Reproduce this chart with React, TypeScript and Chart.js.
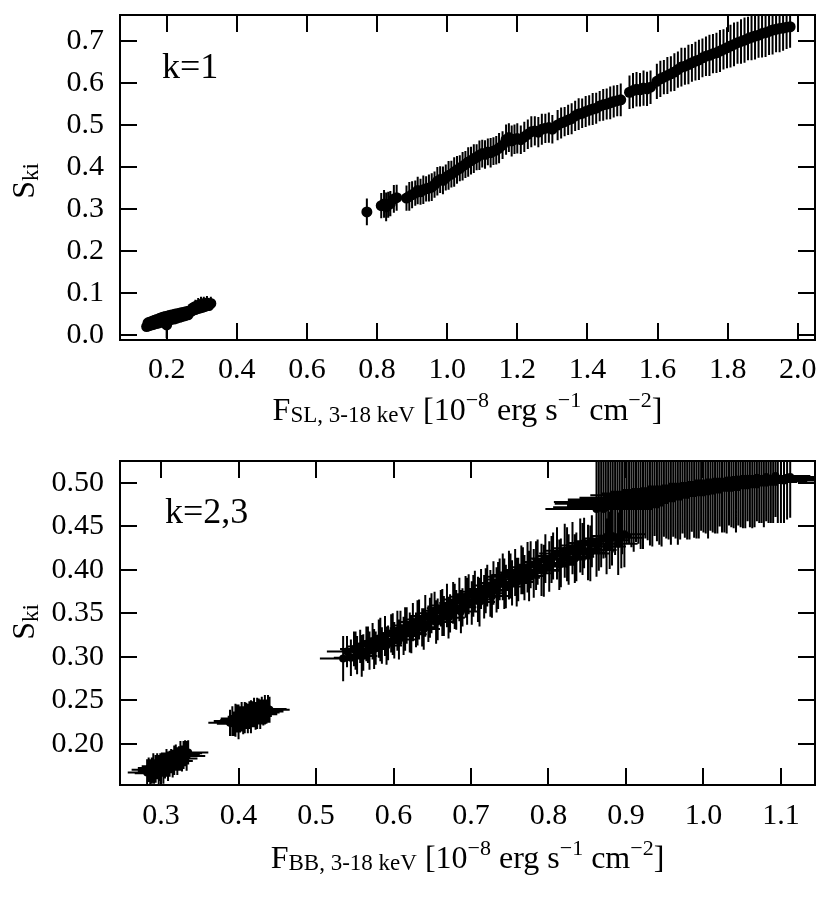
import React, { useEffect, useRef } from "react";
import Chart from "chart.js/auto";

const SERIF = "'Liberation Serif', 'Times New Roman', serif";

// ---- top panel (k=1): soft-lag flux vs S_ki ----
const slLowX = [0.143, 0.147, 0.150, 0.153, 0.157, 0.160, 0.163, 0.166, 0.169, 0.172, 0.176, 0.179, 0.182, 0.185, 0.188, 0.191, 0.194, 0.197, 0.200, 0.203, 0.206, 0.210, 0.213, 0.217, 0.221, 0.225, 0.229, 0.233, 0.237, 0.241, 0.245, 0.249, 0.253, 0.257, 0.261, 0.265, 0.270, 0.274, 0.278, 0.282, 0.286, 0.290, 0.294, 0.298, 0.302, 0.306, 0.310, 0.315, 0.320, 0.326];
const slLowY = [0.020, 0.029, 0.022, 0.031, 0.024, 0.033, 0.025, 0.035, 0.027, 0.037, 0.028, 0.039, 0.030, 0.041, 0.031, 0.043, 0.033, 0.044, 0.024, 0.045, 0.035, 0.047, 0.037, 0.048, 0.038, 0.050, 0.040, 0.051, 0.042, 0.053, 0.044, 0.054, 0.046, 0.056, 0.048, 0.057, 0.056, 0.064, 0.060, 0.068, 0.062, 0.071, 0.064, 0.073, 0.066, 0.075, 0.068, 0.076, 0.070, 0.075];
const slLowErr = [0.006, 0.006, 0.006, 0.006, 0.006, 0.007, 0.006, 0.007, 0.006, 0.007, 0.007, 0.007, 0.007, 0.007, 0.007, 0.008, 0.007, 0.008, 0.032, 0.008, 0.008, 0.008, 0.008, 0.008, 0.008, 0.009, 0.008, 0.009, 0.009, 0.009, 0.009, 0.009, 0.009, 0.010, 0.010, 0.010, 0.010, 0.010, 0.012, 0.016, 0.013, 0.017, 0.013, 0.018, 0.013, 0.016, 0.013, 0.017, 0.013, 0.016];

const slHighX = [
  0.771, 0.812, 0.820, 0.826, 0.832, 0.838, 0.848, 0.856, 0.884, 0.892,
  0.900, 0.909, 0.916, 0.924, 0.932, 0.940, 0.948, 0.956, 0.964, 0.972,
  0.980, 0.988, 0.996, 1.004, 1.012, 1.020, 1.028, 1.036, 1.044, 1.052,
  1.060, 1.068, 1.076, 1.084, 1.092, 1.100, 1.108, 1.116, 1.124, 1.132,
  1.140, 1.148, 1.158, 1.168, 1.176, 1.184, 1.192, 1.200, 1.210, 1.220,
  1.230, 1.240, 1.250, 1.260, 1.270, 1.280, 1.290, 1.300, 1.315, 1.325,
  1.335, 1.345, 1.355, 1.365, 1.375, 1.385, 1.395, 1.405, 1.415, 1.425,
  1.435, 1.445, 1.455, 1.465, 1.475, 1.485, 1.495, 1.520, 1.530, 1.540,
  1.550, 1.560, 1.570, 1.580, 1.598, 1.608, 1.618, 1.628, 1.638, 1.648,
  1.658, 1.668, 1.678, 1.688, 1.698, 1.708, 1.718, 1.728, 1.738, 1.748,
  1.758, 1.768, 1.778, 1.788, 1.798, 1.808, 1.818, 1.828, 1.838, 1.848,
  1.858, 1.868, 1.878, 1.888, 1.898, 1.908, 1.918, 1.928, 1.938, 1.948,
  1.958, 1.968, 1.978,
];
const slHighY = [
  0.293, 0.308, 0.312, 0.305, 0.310, 0.313, 0.324, 0.327, 0.326, 0.330,
  0.334, 0.338, 0.344, 0.341, 0.346, 0.348, 0.350, 0.352, 0.358, 0.366,
  0.370, 0.368, 0.375, 0.380, 0.383, 0.388, 0.393, 0.397, 0.402, 0.406,
  0.412, 0.415, 0.420, 0.423, 0.428, 0.432, 0.430, 0.436, 0.434, 0.438,
  0.440, 0.445, 0.452, 0.465, 0.470, 0.462, 0.466, 0.468, 0.465, 0.472,
  0.478, 0.484, 0.486, 0.483, 0.490, 0.492, 0.494, 0.490, 0.500, 0.505,
  0.508, 0.512, 0.515, 0.522, 0.526, 0.528, 0.532, 0.535, 0.538, 0.540,
  0.545, 0.548, 0.550, 0.553, 0.556, 0.558, 0.560, 0.578, 0.582, 0.585,
  0.584, 0.588, 0.586, 0.590, 0.604, 0.610, 0.614, 0.618, 0.622, 0.626,
  0.632, 0.638, 0.640, 0.644, 0.648, 0.652, 0.655, 0.660, 0.664, 0.666,
  0.670, 0.672, 0.676, 0.680, 0.684, 0.688, 0.692, 0.696, 0.699, 0.702,
  0.706, 0.709, 0.712, 0.714, 0.718, 0.720, 0.723, 0.726, 0.728, 0.730,
  0.731, 0.733, 0.734,
];
const slHighErr = [
  0.032, 0.030, 0.033, 0.034, 0.031, 0.030, 0.033, 0.031, 0.030, 0.034,
  0.032, 0.030, 0.033, 0.031, 0.034, 0.030, 0.032, 0.033, 0.031, 0.034,
  0.032, 0.033, 0.031, 0.034, 0.032, 0.035, 0.033, 0.031, 0.034, 0.032,
  0.035, 0.033, 0.034, 0.031, 0.035, 0.033, 0.034, 0.032, 0.035, 0.033,
  0.034, 0.036, 0.033, 0.036, 0.034, 0.037, 0.035, 0.036, 0.034, 0.036,
  0.035, 0.037, 0.035, 0.036, 0.037, 0.035, 0.036, 0.034, 0.036, 0.037,
  0.035, 0.036, 0.037, 0.036, 0.038, 0.035, 0.037, 0.036, 0.038, 0.037,
  0.036, 0.038, 0.037, 0.039, 0.038, 0.037, 0.039, 0.040, 0.042, 0.041,
  0.040, 0.042, 0.041, 0.040, 0.042, 0.043, 0.041, 0.044, 0.042, 0.045,
  0.043, 0.046, 0.044, 0.047, 0.045, 0.046, 0.048, 0.046, 0.047, 0.049,
  0.047, 0.048, 0.050, 0.048, 0.049, 0.051, 0.052, 0.050, 0.053, 0.054,
  0.052, 0.055, 0.056, 0.054, 0.057, 0.058, 0.056, 0.058, 0.055, 0.057,
  0.054, 0.052, 0.050,
];

// ---- bottom panel (k=2,3): blackbody flux vs S_ki ----
const bbAX = [0.282, 0.284, 0.286, 0.288, 0.290, 0.291, 0.293, 0.295, 0.297, 0.299, 0.301, 0.303, 0.305, 0.307, 0.309, 0.311, 0.313, 0.315, 0.317, 0.319, 0.321, 0.323, 0.325, 0.327, 0.329, 0.331, 0.333, 0.335];
const bbAY = [0.167, 0.170, 0.166, 0.169, 0.172, 0.168, 0.171, 0.174, 0.170, 0.173, 0.176, 0.172, 0.175, 0.178, 0.174, 0.177, 0.180, 0.177, 0.181, 0.184, 0.180, 0.183, 0.186, 0.183, 0.187, 0.189, 0.186, 0.190];
const bbAXErr = [0.025, 0.022, 0.020, 0.018, 0.020, 0.019, 0.018, 0.020, 0.017, 0.019, 0.018, 0.020, 0.018, 0.017, 0.019, 0.018, 0.020, 0.018, 0.019, 0.017, 0.020, 0.018, 0.019, 0.020, 0.021, 0.022, 0.024, 0.026];
const bbAYErr = [0.015, 0.014, 0.016, 0.015, 0.017, 0.014, 0.016, 0.015, 0.017, 0.016, 0.014, 0.018, 0.015, 0.016, 0.017, 0.015, 0.014, 0.016, 0.017, 0.015, 0.016, 0.014, 0.017, 0.015, 0.016, 0.015, 0.017, 0.014];

const bbBX = [0.389, 0.392, 0.394, 0.396, 0.398, 0.400, 0.402, 0.404, 0.406, 0.408, 0.410, 0.412, 0.414, 0.416, 0.418, 0.420, 0.422, 0.424, 0.426, 0.428, 0.430, 0.432, 0.434, 0.436, 0.438, 0.440];
const bbBY = [0.224, 0.226, 0.223, 0.227, 0.229, 0.225, 0.228, 0.231, 0.227, 0.230, 0.232, 0.229, 0.233, 0.231, 0.234, 0.236, 0.232, 0.235, 0.237, 0.234, 0.238, 0.236, 0.239, 0.237, 0.240, 0.239];
const bbBXErr = [0.028, 0.024, 0.022, 0.020, 0.021, 0.019, 0.020, 0.018, 0.021, 0.019, 0.020, 0.018, 0.021, 0.019, 0.020, 0.018, 0.021, 0.019, 0.020, 0.022, 0.019, 0.021, 0.020, 0.022, 0.024, 0.026];
const bbBYErr = [0.015, 0.017, 0.014, 0.019, 0.016, 0.020, 0.015, 0.017, 0.016, 0.018, 0.015, 0.017, 0.016, 0.019, 0.015, 0.017, 0.016, 0.018, 0.015, 0.017, 0.016, 0.015, 0.017, 0.014, 0.016, 0.015];

const bbCX = [
  0.535, 0.540, 0.545, 0.549, 0.553, 0.557, 0.561, 0.565, 0.569, 0.573,
  0.577, 0.581, 0.585, 0.589, 0.593, 0.597, 0.601, 0.605, 0.609, 0.613,
  0.617, 0.621, 0.625, 0.629, 0.633, 0.637, 0.641, 0.645, 0.649, 0.653,
  0.657, 0.661, 0.665, 0.669, 0.673, 0.677, 0.681, 0.685, 0.689, 0.693,
  0.697, 0.701, 0.705, 0.709, 0.713, 0.717, 0.721, 0.725, 0.729, 0.733,
  0.737, 0.741, 0.745, 0.749, 0.753, 0.757, 0.761, 0.765, 0.769, 0.773,
  0.777, 0.781, 0.786, 0.791, 0.796, 0.801, 0.806, 0.811, 0.816, 0.821,
  0.826, 0.831, 0.836, 0.841, 0.846, 0.851, 0.856, 0.862, 0.868, 0.875,
  0.882, 0.890, 0.898,
];
const bbCY = [
  0.298, 0.306, 0.299, 0.309, 0.302, 0.312, 0.305, 0.315, 0.307, 0.318,
  0.310, 0.321, 0.313, 0.324, 0.316, 0.327, 0.319, 0.330, 0.333, 0.324,
  0.336, 0.328, 0.340, 0.331, 0.343, 0.334, 0.347, 0.338, 0.350, 0.353,
  0.343, 0.356, 0.347, 0.359, 0.350, 0.362, 0.354, 0.366, 0.357, 0.369,
  0.372, 0.362, 0.375, 0.366, 0.378, 0.369, 0.382, 0.373, 0.385, 0.377,
  0.389, 0.392, 0.381, 0.394, 0.385, 0.397, 0.389, 0.400, 0.391, 0.403,
  0.406, 0.396, 0.409, 0.400, 0.413, 0.404, 0.416, 0.419, 0.408, 0.422,
  0.412, 0.425, 0.415, 0.428, 0.431, 0.420, 0.433, 0.423, 0.436, 0.427,
  0.439, 0.430, 0.441,
];
const bbCXErr = [
  0.030, 0.026, 0.022, 0.018, 0.015, 0.016, 0.014, 0.017, 0.015, 0.016,
  0.014, 0.017, 0.015, 0.016, 0.018, 0.015, 0.017, 0.016, 0.014, 0.018,
  0.016, 0.015, 0.017, 0.016, 0.018, 0.015, 0.017, 0.016, 0.019, 0.017,
  0.016, 0.018, 0.017, 0.019, 0.016, 0.018, 0.017, 0.019, 0.018, 0.020,
  0.017, 0.019, 0.018, 0.020, 0.017, 0.019, 0.018, 0.021, 0.019, 0.020,
  0.018, 0.021, 0.019, 0.022, 0.020, 0.021, 0.019, 0.022, 0.020, 0.023,
  0.021, 0.022, 0.020, 0.023, 0.021, 0.024, 0.022, 0.023, 0.021, 0.024,
  0.022, 0.025, 0.023, 0.024, 0.022, 0.025, 0.023, 0.026, 0.024, 0.025,
  0.026, 0.025, 0.027,
];
const bbCYErr = [
  0.026, 0.018, 0.021, 0.020, 0.022, 0.019, 0.021, 0.020, 0.022, 0.021,
  0.019, 0.022, 0.021, 0.023, 0.020, 0.022, 0.021, 0.023, 0.020, 0.022,
  0.021, 0.023, 0.022, 0.020, 0.023, 0.022, 0.024, 0.021, 0.023, 0.022,
  0.024, 0.021, 0.023, 0.025, 0.022, 0.024, 0.023, 0.025, 0.022, 0.024,
  0.023, 0.025, 0.024, 0.026, 0.023, 0.025, 0.024, 0.027, 0.025, 0.026,
  0.024, 0.027, 0.025, 0.028, 0.026, 0.027, 0.025, 0.028, 0.026, 0.029,
  0.027, 0.028, 0.026, 0.030, 0.028, 0.029, 0.027, 0.030, 0.028, 0.031,
  0.029, 0.030, 0.028, 0.031, 0.029, 0.032, 0.030, 0.031, 0.033, 0.032,
  0.034, 0.036, 0.038,
];

// second set of observations interleaved in the lower band
const bbFX = [0.551, 0.559, 0.567, 0.575, 0.583, 0.591, 0.599, 0.607, 0.615, 0.623, 0.631, 0.639, 0.647, 0.655, 0.663, 0.671, 0.679, 0.687, 0.695, 0.703, 0.711, 0.719, 0.727, 0.735, 0.743, 0.751, 0.759, 0.767, 0.775, 0.784, 0.794, 0.804, 0.814, 0.824, 0.834, 0.844, 0.854, 0.865, 0.879, 0.894];
const bbFY = [0.307, 0.301, 0.314, 0.309, 0.320, 0.313, 0.326, 0.320, 0.332, 0.326, 0.339, 0.332, 0.345, 0.340, 0.351, 0.345, 0.358, 0.352, 0.364, 0.370, 0.363, 0.376, 0.370, 0.382, 0.384, 0.393, 0.386, 0.399, 0.393, 0.405, 0.399, 0.412, 0.406, 0.418, 0.413, 0.424, 0.419, 0.430, 0.434, 0.437];
const bbFXErr = [0.018, 0.020, 0.017, 0.019, 0.018, 0.020, 0.019, 0.021, 0.018, 0.020, 0.019, 0.021, 0.020, 0.022, 0.019, 0.021, 0.020, 0.022, 0.021, 0.023, 0.020, 0.022, 0.021, 0.023, 0.022, 0.024, 0.021, 0.023, 0.022, 0.024, 0.023, 0.025, 0.022, 0.024, 0.023, 0.025, 0.024, 0.026, 0.025, 0.027];
const bbFYErr = [0.022, 0.024, 0.021, 0.023, 0.025, 0.022, 0.024, 0.023, 0.025, 0.022, 0.026, 0.024, 0.023, 0.025, 0.027, 0.024, 0.026, 0.025, 0.027, 0.024, 0.028, 0.026, 0.025, 0.027, 0.029, 0.026, 0.028, 0.027, 0.029, 0.028, 0.030, 0.027, 0.029, 0.031, 0.028, 0.030, 0.032, 0.031, 0.033, 0.035];

const bbDX = [0.862, 0.868, 0.874, 0.880, 0.886, 0.892, 0.898, 0.904, 0.910, 0.916, 0.922, 0.928, 0.934, 0.940, 0.946, 0.952, 0.958, 0.964, 0.970, 0.976, 0.982, 0.988, 0.994, 1.000, 1.006, 1.012, 1.018, 1.024, 1.030, 1.036, 1.042, 1.048, 1.054, 1.060, 1.066, 1.072, 1.078, 1.084, 1.090, 1.096, 1.104, 1.112];
const bbDY = [0.470, 0.476, 0.472, 0.479, 0.474, 0.481, 0.477, 0.483, 0.479, 0.485, 0.481, 0.487, 0.483, 0.488, 0.485, 0.490, 0.486, 0.491, 0.488, 0.493, 0.489, 0.494, 0.491, 0.496, 0.492, 0.497, 0.494, 0.498, 0.495, 0.500, 0.497, 0.501, 0.498, 0.502, 0.500, 0.503, 0.501, 0.504, 0.502, 0.505, 0.503, 0.507];
const bbDXErr = [0.066, 0.060, 0.068, 0.055, 0.062, 0.050, 0.058, 0.048, 0.054, 0.046, 0.050, 0.045, 0.048, 0.044, 0.046, 0.043, 0.045, 0.042, 0.044, 0.041, 0.043, 0.042, 0.044, 0.041, 0.043, 0.040, 0.042, 0.041, 0.043, 0.040, 0.042, 0.041, 0.043, 0.044, 0.042, 0.045, 0.043, 0.046, 0.044, 0.047, 0.045, 0.048];
const bbDYErr = [0.056, 0.054, 0.058, 0.055, 0.057, 0.053, 0.056, 0.054, 0.058, 0.055, 0.057, 0.053, 0.056, 0.055, 0.058, 0.054, 0.057, 0.055, 0.053, 0.056, 0.054, 0.057, 0.055, 0.053, 0.056, 0.054, 0.052, 0.055, 0.053, 0.051, 0.054, 0.052, 0.050, 0.053, 0.051, 0.049, 0.052, 0.050, 0.048, 0.051, 0.049, 0.047];

const bbEX = [0.865, 0.871, 0.877, 0.883, 0.889, 0.895, 0.901, 0.907, 0.913, 0.919, 0.925, 0.931, 0.937, 0.943, 0.949, 0.955, 0.961, 0.967, 0.973, 0.979, 0.985, 0.991, 0.997, 1.003, 1.009, 1.015, 1.021, 1.027, 1.033, 1.039, 1.045, 1.051, 1.057, 1.063, 1.069, 1.075, 1.081, 1.087, 1.093, 1.100, 1.108];
const bbEY = [0.478, 0.470, 0.481, 0.476, 0.483, 0.475, 0.486, 0.480, 0.488, 0.482, 0.490, 0.484, 0.492, 0.486, 0.493, 0.488, 0.494, 0.487, 0.496, 0.490, 0.497, 0.492, 0.499, 0.494, 0.500, 0.495, 0.501, 0.497, 0.503, 0.498, 0.504, 0.499, 0.505, 0.500, 0.506, 0.502, 0.507, 0.503, 0.508, 0.504, 0.506];
const bbEXErr = [0.058, 0.064, 0.052, 0.057, 0.049, 0.053, 0.047, 0.051, 0.045, 0.049, 0.044, 0.047, 0.043, 0.046, 0.042, 0.045, 0.043, 0.041, 0.044, 0.042, 0.040, 0.043, 0.041, 0.042, 0.040, 0.043, 0.041, 0.042, 0.044, 0.041, 0.043, 0.042, 0.044, 0.045, 0.043, 0.046, 0.044, 0.047, 0.045, 0.048, 0.046];
const bbEYErr = [0.055, 0.057, 0.054, 0.056, 0.053, 0.057, 0.055, 0.054, 0.056, 0.058, 0.054, 0.056, 0.053, 0.057, 0.055, 0.053, 0.056, 0.058, 0.054, 0.055, 0.053, 0.056, 0.054, 0.052, 0.055, 0.053, 0.051, 0.054, 0.052, 0.050, 0.053, 0.051, 0.049, 0.052, 0.050, 0.048, 0.051, 0.049, 0.047, 0.050, 0.048];

// tick values
const slXTicks = [0.2, 0.4, 0.6, 0.8, 1.0, 1.2, 1.4, 1.6, 1.8, 2.0];
const slYTicks = [0.0, 0.1, 0.2, 0.3, 0.4, 0.5, 0.6, 0.7];
const bbXTicks = [0.3, 0.4, 0.5, 0.6, 0.7, 0.8, 0.9, 1.0, 1.1];
const bbYTicks = [0.20, 0.25, 0.30, 0.35, 0.40, 0.45, 0.50];

interface Series {
  x: number[];
  y: number[];
  yErr: number[];
  xErr?: number[];
}

interface PanelProps {
  id: string;
  top: number;
  height: number;
  areaTop: number;
  areaBottom: number;
  series: Series[];
  xRange: [number, number];
  yRange: [number, number];
  xTicks: number[];
  yTicks: number[];
  xDigits: number;
  yDigits: number;
  xPad: number;
  radius: number;
  errWidth: number;
  tag: string;
  tagPos: [number, number];
}

const TICK_LEN = 17;

const Panel = (props: PanelProps) => {
  const canvasRef = useRef<HTMLCanvasElement | null>(null);
  const chartRef = useRef<Chart | null>(null);

  useEffect(() => {
    const { series, xTicks, yTicks, height, areaTop, areaBottom } = props;
    if (chartRef.current) chartRef.current.destroy();
    const ctx = canvasRef.current?.getContext("2d");
    if (!ctx) return;

    const framePlugin = {
      id: "frameAndErrors",
      beforeDatasetsDraw(chart: Chart) {
        const c = chart.ctx;
        const a = chart.chartArea;
        const xs = chart.scales.x;
        const ys = chart.scales.y;
        c.save();
        c.beginPath();
        c.rect(a.left, a.top, a.right - a.left, a.bottom - a.top);
        c.clip();
        c.strokeStyle = "#000";
        c.lineWidth = props.errWidth;
        c.beginPath();
        series.forEach((s) => {
          const n = Math.min(s.x.length, s.y.length);
          for (let i = 0; i < n; i++) {
            const px = xs.getPixelForValue(s.x[i]);
            const py = ys.getPixelForValue(s.y[i]);
            const ye = s.yErr[i] ?? 0;
            c.moveTo(px, ys.getPixelForValue(s.y[i] - ye));
            c.lineTo(px, ys.getPixelForValue(s.y[i] + ye));
            if (s.xErr) {
              const xe = s.xErr[i] ?? 0;
              c.moveTo(xs.getPixelForValue(s.x[i] - xe), py);
              c.lineTo(xs.getPixelForValue(s.x[i] + xe), py);
            }
          }
        });
        c.stroke();
        c.restore();
      },
      afterDraw(chart: Chart) {
        const c = chart.ctx;
        const a = chart.chartArea;
        const xs = chart.scales.x;
        const ys = chart.scales.y;
        c.save();
        c.strokeStyle = "#000";
        c.lineWidth = 2;
        c.beginPath();
        xTicks.forEach((v) => {
          const px = Math.round(xs.getPixelForValue(v));
          c.moveTo(px, a.bottom);
          c.lineTo(px, a.bottom - TICK_LEN);
          c.moveTo(px, a.top);
          c.lineTo(px, a.top + TICK_LEN);
        });
        yTicks.forEach((v) => {
          const py = Math.round(ys.getPixelForValue(v));
          c.moveTo(a.left, py);
          c.lineTo(a.left + TICK_LEN, py);
          c.moveTo(a.right, py);
          c.lineTo(a.right - TICK_LEN, py);
        });
        c.stroke();
        c.strokeRect(a.left, a.top, a.right - a.left, a.bottom - a.top);
        c.fillStyle = "#000";
        c.font = `36px ${SERIF}`;
        c.textBaseline = "alphabetic";
        c.textAlign = "left";
        c.fillText(props.tag, a.left + props.tagPos[0], a.top + props.tagPos[1]);
        c.restore();
      },
    };

    const tickFont = { family: SERIF, size: 30 };

    chartRef.current = new Chart(ctx, {
      type: "scatter",
      data: {
        datasets: series.map((s) => ({
          data: s.x.map((x, i) => ({ x, y: s.y[i] })),
          pointRadius: props.radius,
          pointHoverRadius: props.radius,
          pointBackgroundColor: "#000",
          pointBorderWidth: 0,
          borderColor: "#000",
          showLine: false,
        })),
      },
      options: {
        responsive: false,
        maintainAspectRatio: false,
        animation: false,
        events: [],
        layout: { padding: { left: 0, right: 15, top: areaTop, bottom: 0 } },
        plugins: { legend: { display: false }, tooltip: { enabled: false } },
        scales: {
          x: {
            type: "linear",
            min: props.xRange[0],
            max: props.xRange[1],
            grid: { display: false, drawTicks: false },
            border: { display: false },
            afterBuildTicks: (scale: any) => {
              scale.ticks = xTicks.map((value) => ({ value }));
            },
            afterFit: (scale: any) => {
              scale.height = height - areaBottom;
              scale.paddingLeft = 0;
              scale.paddingRight = 0;
            },
            ticks: {
              font: tickFont,
              color: "#000",
              padding: props.xPad,
              maxRotation: 0,
              autoSkip: false,
              callback: (v: any) => Number(v).toFixed(props.xDigits),
            },
          },
          y: {
            type: "linear",
            min: props.yRange[0],
            max: props.yRange[1],
            grid: { display: false, drawTicks: false },
            border: { display: false },
            afterBuildTicks: (scale: any) => {
              scale.ticks = yTicks.map((value) => ({ value }));
            },
            afterFit: (scale: any) => {
              scale.width = 120;
              scale.paddingTop = 0;
              scale.paddingBottom = 0;
            },
            ticks: {
              font: tickFont,
              color: "#000",
              padding: 16,
              autoSkip: false,
              callback: (v: any) => Number(v).toFixed(props.yDigits),
            },
          },
        },
      },
      plugins: [framePlugin],
    });

    return () => {
      if (chartRef.current) {
        chartRef.current.destroy();
        chartRef.current = null;
      }
    };
  }, [props]);

  return (
    <canvas
      id={props.id}
      ref={canvasRef}
      width={830}
      height={props.height}
      style={{ position: "absolute", left: 0, top: props.top, width: 830, height: props.height, display: "block" }}
    />
  );
};

const sub: React.CSSProperties = { fontSize: 23, position: "relative", top: 2 };
const sup: React.CSSProperties = { fontSize: 22, position: "relative", top: -13 };

const XTitle = ({ top, name }: { top: number; name: string }) => (
  <div
    style={{
      position: "absolute",
      left: 120,
      width: 695,
      top,
      fontSize: 32,
      lineHeight: "32px",
      textAlign: "center",
      whiteSpace: "nowrap",
      color: "#000",
    }}
  >
    F<span style={sub}>{name}, 3-18 keV</span> [10<span style={sup}>−8</span> erg s<span style={sup}>−1</span> cm
    <span style={sup}>−2</span>]
  </div>
);

const YTitle = ({ cy }: { cy: number }) => (
  <div
    style={{
      position: "absolute",
      left: 23 - 100,
      top: cy - 15,
      width: 200,
      height: 30,
      fontSize: 32,
      lineHeight: "30px",
      textAlign: "center",
      whiteSpace: "nowrap",
      transform: "rotate(-90deg)",
      color: "#000",
    }}
  >
    S<span style={{ fontSize: 23, position: "relative", top: 4 }}>ki</span>
  </div>
);

const topSeries: Series[] = [
  { x: slLowX, y: slLowY, yErr: slLowErr },
  { x: slHighX, y: slHighY, yErr: slHighErr },
];

const bottomSeries: Series[] = [
  { x: bbAX, y: bbAY, xErr: bbAXErr, yErr: bbAYErr },
  { x: bbBX, y: bbBY, xErr: bbBXErr, yErr: bbBYErr },
  { x: bbCX, y: bbCY, xErr: bbCXErr, yErr: bbCYErr },
  { x: bbFX, y: bbFY, xErr: bbFXErr, yErr: bbFYErr },
  { x: bbDX, y: bbDY, xErr: bbDXErr, yErr: bbDYErr },
  { x: bbEX, y: bbEY, xErr: bbEXErr, yErr: bbEYErr },
];

const topProps: PanelProps = {
  id: "panel-sl",
  top: 0,
  height: 440,
  areaTop: 15,
  areaBottom: 340,
  series: topSeries,
  xRange: [0.067, 2.049],
  yRange: [-0.012, 0.762],
  xTicks: slXTicks,
  yTicks: slYTicks,
  xDigits: 1,
  yDigits: 1,
  xPad: 12,
  radius: 5.5,
  errWidth: 2,
  tag: "k=1",
  tagPos: [42, 63],
};

const bottomProps: PanelProps = {
  id: "panel-bb",
  top: 440,
  height: 466,
  areaTop: 21,
  areaBottom: 345,
  series: bottomSeries,
  xRange: [0.247, 1.144],
  yRange: [0.1525, 0.5253],
  xTicks: bbXTicks,
  yTicks: bbYTicks,
  xDigits: 1,
  yDigits: 2,
  xPad: 13,
  radius: 4,
  errWidth: 2,
  tag: "k=2,3",
  tagPos: [45, 62],
};

export default function App() {
  return (
    <div
      style={{
        position: "absolute",
        left: 0,
        top: 0,
        width: 830,
        height: 906,
        background: "#fff",
        fontFamily: SERIF,
        overflow: "hidden",
      }}
    >
      <Panel {...topProps} />
      <Panel {...bottomProps} />
      <XTitle top={393} name="SL" />
      <XTitle top={841} name="BB" />
      <YTitle cy={181} />
      <YTitle cy={622} />
    </div>
  );
}
